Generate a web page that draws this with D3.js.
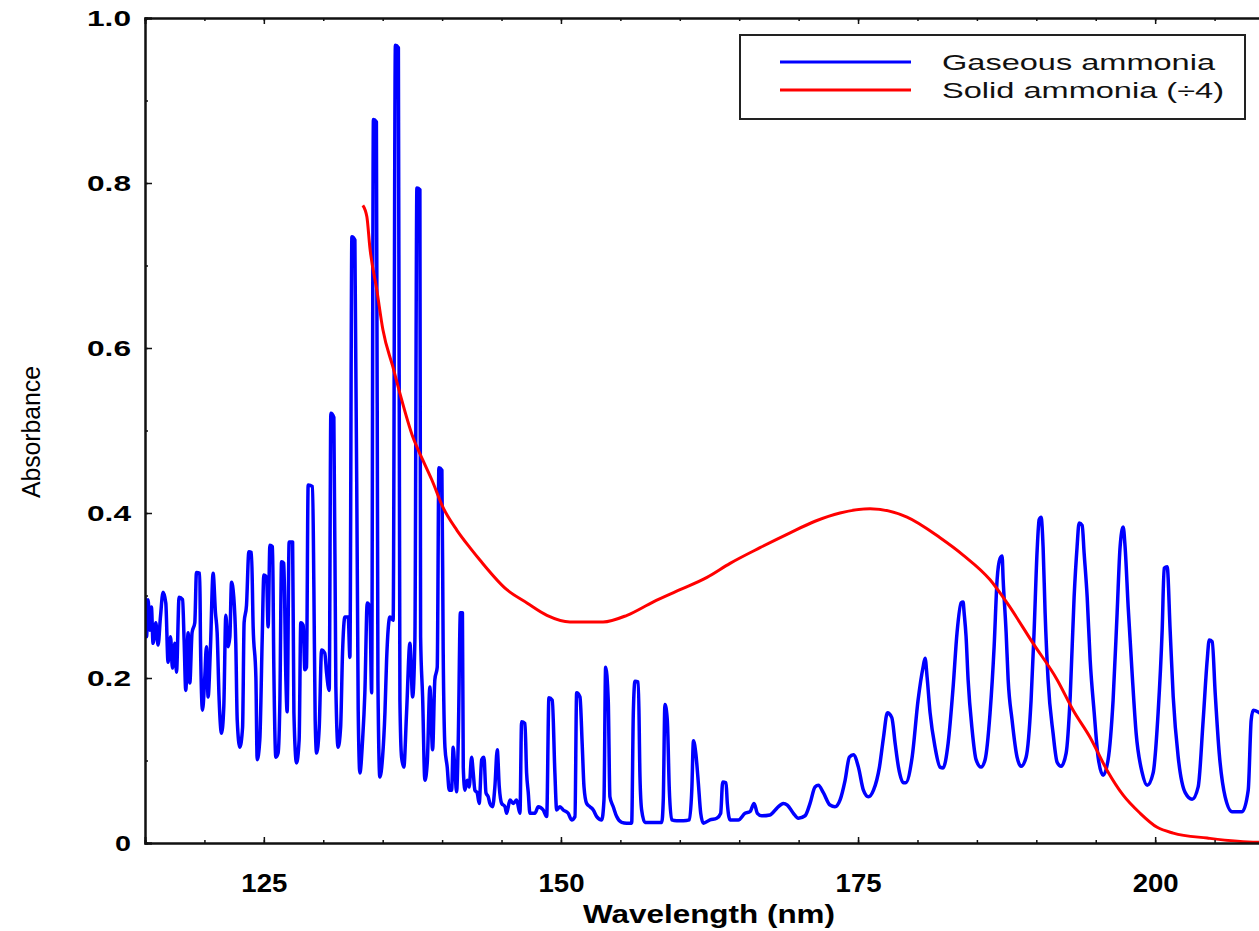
<!DOCTYPE html>
<html>
<head>
<meta charset="utf-8">
<script src="https://cdn.jsdelivr.net/npm/d3@7.9.0/dist/d3.min.js"></script>
<style>
  html, body { margin: 0; padding: 0; background: #fff; }
  svg { display: block; font-family: "Liberation Sans", Arial, sans-serif; }
</style>
</head>
<body>
<svg id="chart" width="1259" height="931"></svg>
<script>
// gaseous ammonia spectrum, [wavelength nm, absorbance]
const gaseous = [
  [115.00,0.298],[115.13,0.250],[115.26,0.295],[115.40,0.258],[115.54,0.286],[115.68,0.242],[115.91,0.267],[116.10,0.240],
  [116.30,0.274],[116.52,0.304],[116.75,0.291],[116.94,0.219],[117.15,0.250],[117.31,0.212],[117.51,0.242],[117.65,0.207],
  [117.87,0.298],[118.16,0.295],[118.29,0.246],[118.43,0.185],[118.63,0.255],[118.77,0.194],[118.96,0.255],[119.19,0.267],
  [119.33,0.328],[119.61,0.327],[119.67,0.242],[119.84,0.161],[120.03,0.201],[120.17,0.238],[120.31,0.177],[120.51,0.238],
  [120.73,0.327],[120.93,0.279],[121.07,0.255],[121.24,0.173],[121.44,0.133],[121.63,0.165],[121.80,0.276],[121.99,0.238],
  [122.14,0.250],[122.28,0.316],[122.47,0.298],[122.64,0.242],[122.76,0.149],[122.98,0.116],[123.21,0.140],[123.34,0.267],
  [123.54,0.288],[123.74,0.353],[123.96,0.352],[124.10,0.262],[124.33,0.201],[124.44,0.101],[124.66,0.125],[124.86,0.246],
  [125.00,0.325],[125.23,0.322],[125.36,0.262],[125.51,0.361],[125.73,0.359],[125.84,0.213],[126.01,0.104],[126.20,0.109],
  [126.35,0.173],[126.49,0.341],[126.68,0.339],[126.85,0.201],[126.96,0.159],[127.13,0.365],[127.42,0.365],[127.53,0.158],
  [127.75,0.097],[127.97,0.125],[128.11,0.267],[128.31,0.264],[128.45,0.210],[128.59,0.213],[128.73,0.434],[129.10,0.432],
  [129.21,0.310],[129.32,0.149],[129.44,0.109],[129.66,0.140],[129.86,0.234],[130.13,0.230],[130.28,0.206],[130.50,0.185],
  [130.64,0.521],[130.89,0.516],[131.06,0.189],[131.25,0.116],[131.46,0.140],[131.62,0.230],[131.82,0.274],[132.10,0.274],
  [132.24,0.225],[132.41,0.735],[132.66,0.731],[132.94,0.161],[133.08,0.085],[133.31,0.125],[133.50,0.182],[133.70,0.291],
  [133.92,0.286],[134.07,0.182],[134.22,0.877],[134.47,0.874],[134.60,0.198],[134.76,0.080],[134.99,0.104],[135.19,0.158],
  [135.33,0.222],[135.61,0.274],[135.88,0.270],[136.07,0.967],[136.32,0.964],[136.45,0.173],[136.59,0.104],[136.78,0.092],
  [137.01,0.158],[137.29,0.242],[137.52,0.177],[137.71,0.246],[137.88,0.794],[138.13,0.792],[138.19,0.250],[138.36,0.177],
  [138.55,0.076],[138.75,0.097],[138.97,0.189],[139.20,0.113],[139.39,0.198],[139.59,0.213],[139.73,0.455],[139.98,0.452],
  [140.09,0.234],[140.24,0.116],[140.43,0.092],[140.60,0.064],[140.80,0.064],[140.93,0.116],[141.08,0.088],[141.22,0.062],
  [141.36,0.125],[141.54,0.279],[141.71,0.279],[141.78,0.092],[141.92,0.064],[142.11,0.076],[142.28,0.068],[142.48,0.104],
  [142.62,0.085],[142.76,0.064],[142.95,0.061],[143.12,0.048],[143.33,0.101],[143.52,0.104],[143.69,0.061],[143.88,0.056],
  [144.02,0.048],[144.25,0.044],[144.44,0.068],[144.64,0.113],[144.81,0.068],[145.01,0.048],[145.29,0.044],[145.43,0.036],
  [145.71,0.052],[145.99,0.048],[146.27,0.052],[146.55,0.036],[146.69,0.147],[146.97,0.145],[147.11,0.085],[147.25,0.061],
  [147.39,0.036],[147.81,0.036],[148.09,0.044],[148.51,0.040],[148.80,0.032],[148.99,0.176],[149.27,0.173],[149.49,0.085],
  [149.64,0.040],[149.92,0.044],[150.19,0.040],[150.61,0.036],[150.90,0.028],[151.18,0.032],[151.32,0.182],[151.60,0.177],
  [151.79,0.119],[151.94,0.068],[152.16,0.048],[152.44,0.044],[152.72,0.040],[153.01,0.032],[153.43,0.028],[153.62,0.052],
  [153.76,0.213],[153.98,0.173],[154.12,0.056],[154.40,0.044],[154.69,0.032],[155.11,0.025],[155.53,0.024],[155.95,0.024],
  [156.09,0.158],[156.23,0.196],[156.51,0.195],[156.65,0.080],[156.79,0.040],[157.07,0.025],[157.49,0.025],[158.48,0.025],
  [158.61,0.052],[158.75,0.168],[158.95,0.149],[159.12,0.064],[159.32,0.028],[159.74,0.027],[160.30,0.027],[160.81,0.028],
  [161.01,0.064],[161.15,0.124],[161.36,0.107],[161.56,0.073],[161.76,0.036],[161.98,0.024],[162.54,0.028],[163.11,0.030],
  [163.44,0.036],[163.61,0.074],[163.89,0.073],[164.00,0.048],[164.23,0.028],[164.93,0.028],[165.49,0.036],[165.91,0.038],
  [166.25,0.048],[166.53,0.036],[166.89,0.033],[167.59,0.034],[168.16,0.042],[168.71,0.048],[169.05,0.046],[169.56,0.036],
  [169.98,0.030],[170.54,0.033],[170.96,0.048],[171.38,0.068],[171.66,0.070],[172.08,0.061],[172.64,0.046],[173.06,0.044],
  [173.48,0.052],[173.91,0.076],[174.27,0.104],[174.61,0.107],[175.03,0.092],[175.45,0.064],[175.87,0.056],[176.30,0.064],
  [176.80,0.092],[177.14,0.128],[177.47,0.158],[177.84,0.152],[178.12,0.121],[178.40,0.092],[178.82,0.073],[179.00,0.073],
  [179.55,0.104],[180.05,0.173],[180.47,0.213],[180.64,0.224],[180.81,0.201],[181.06,0.158],[181.48,0.116],[181.90,0.092],
  [182.15,0.091],[182.58,0.121],[183.00,0.189],[183.33,0.255],[183.67,0.291],[183.84,0.292],[183.92,0.280],[184.09,0.250],
  [184.26,0.198],[184.60,0.137],[184.93,0.101],[185.35,0.092],[185.69,0.101],[186.11,0.158],[186.45,0.238],[186.70,0.319],
  [186.95,0.345],[187.12,0.348],[187.21,0.319],[187.46,0.255],[187.63,0.198],[187.96,0.149],[188.38,0.104],[188.72,0.093],
  [189.14,0.104],[189.56,0.173],[189.81,0.255],[190.07,0.355],[190.24,0.392],[190.40,0.395],[190.57,0.359],[190.74,0.279],
  [190.99,0.198],[191.41,0.133],[191.75,0.098],[192.09,0.093],[192.51,0.109],[192.85,0.177],[193.18,0.298],[193.43,0.359],
  [193.60,0.388],[193.86,0.385],[194.02,0.352],[194.28,0.298],[194.53,0.222],[194.87,0.158],[195.20,0.104],[195.62,0.082],
  [196.04,0.101],[196.46,0.173],[196.80,0.279],[197.05,0.359],[197.31,0.383],[197.47,0.359],[197.73,0.286],[198.06,0.206],
  [198.40,0.133],[198.91,0.085],[199.33,0.070],[199.83,0.085],[200.25,0.158],[200.59,0.258],[200.76,0.333],[201.01,0.335],
  [201.26,0.258],[201.52,0.177],[201.94,0.104],[202.53,0.061],[203.11,0.053],[203.62,0.068],[204.04,0.149],[204.38,0.222],
  [204.55,0.246],[204.80,0.244],[205.05,0.182],[205.39,0.109],[205.89,0.056],[206.48,0.038],[207.32,0.038],[207.83,0.064],
  [208.08,0.149],[208.25,0.161],[208.75,0.158],[209.00,0.155]
];

// solid ammonia spectrum divided by 4, [wavelength nm, absorbance]
const solid = [
  [133.33,0.773],[133.67,0.759],[133.92,0.722],[134.51,0.670],[135.02,0.622],[135.86,0.577],[136.45,0.545],[137.54,0.492],
  [138.38,0.464],[139.14,0.440],[140.07,0.407],[141.25,0.379],[142.34,0.358],[143.18,0.343],[145.45,0.307],[147.14,0.291],
  [148.82,0.276],[150.76,0.268],[153.54,0.268],[155.56,0.276],[157.74,0.292],[160.02,0.307],[162.29,0.322],[164.23,0.339],
  [166.75,0.358],[169.28,0.376],[171.38,0.390],[173.48,0.400],[176.01,0.405],[179.12,0.395],[181.90,0.370],[183.84,0.349],
  [186.11,0.319],[187.54,0.291],[189.73,0.242],[191.75,0.198],[193.10,0.161],[194.53,0.128],[195.96,0.088],[197.31,0.058],
  [198.74,0.036],[200.17,0.019],[201.52,0.012],[204.38,0.006],[208.59,0.001],[210.00,0.001]
];

const xDomain = [115, 210];
const yDomain = [0, 1];
const xMajorTicks = [125, 150, 175, 200];
const yMajorTicks = [0, 0.2, 0.4, 0.6, 0.8, 1.0];
const seriesNames = ['Gaseous ammonia', 'Solid ammonia (\u00f74)'];
const seriesColors = ['#0000ff', '#ff0000'];

const svg = d3.select('#chart');
const margin = { left: 145, top: 18, right: 1274, bottom: 843 };

const x = d3.scaleLinear().domain(xDomain).range([margin.left, margin.right]);
const y = d3.scaleLinear().domain(yDomain).range([margin.bottom, margin.top]);

const xMinor = d3.range(115, 210.1, 5);
const yMinor = d3.range(0, 1.01, 0.1);

// clip to the plot frame
svg.append('defs').append('clipPath').attr('id', 'plot')
  .append('rect')
  .attr('x', margin.left).attr('y', margin.top)
  .attr('width', margin.right - margin.left).attr('height', margin.bottom - margin.top);

const line = d3.line()
  .curve(d3.curveMonotoneX)
  .x(d => x(d[0]))
  .y(d => y(d[1]));

svg.append('path')
  .datum(gaseous)
  .attr('clip-path', 'url(#plot)')
  .attr('fill', 'none')
  .attr('stroke', seriesColors[0])
  .attr('stroke-width', 3.5)
  .attr('stroke-linejoin', 'round')
  .attr('d', line);

svg.append('path')
  .datum(solid)
  .attr('clip-path', 'url(#plot)')
  .attr('fill', 'none')
  .attr('stroke', seriesColors[1])
  .attr('stroke-width', 3)
  .attr('stroke-linejoin', 'round')
  .attr('d', line);

// axes, ticks point inward
function styleAxis(g) {
  g.select('.domain').attr('stroke', '#111').attr('stroke-width', 2);
  g.selectAll('.tick line').attr('stroke', '#111').attr('stroke-width', 1.5);
}

// minor ticks
svg.append('g').attr('transform', `translate(0,${margin.bottom})`)
  .call(d3.axisBottom(x).tickValues(xMinor).tickSize(-3).tickFormat(''))
  .call(styleAxis);
svg.append('g').attr('transform', `translate(0,${margin.top})`)
  .call(d3.axisTop(x).tickValues(xMinor).tickSize(-3).tickFormat(''))
  .call(styleAxis);
svg.append('g').attr('transform', `translate(${margin.left},0)`)
  .call(d3.axisLeft(y).tickValues(yMinor).tickSize(-3).tickFormat(''))
  .call(styleAxis);

// major ticks with labels
const xAxis = svg.append('g').attr('transform', `translate(0,${margin.bottom})`)
  .call(d3.axisBottom(x).tickValues(xMajorTicks).tickSize(-6).tickPadding(31).tickFormat(d3.format('d')))
  .call(styleAxis);
xAxis.selectAll('.tick text')
  .attr('fill', '#000')
  .style('font-size', '25px')
  .style('font-weight', 'bold')
  .attr('textLength', 46)
  .attr('lengthAdjust', 'spacingAndGlyphs');

svg.append('g').attr('transform', `translate(0,${margin.top})`)
  .call(d3.axisTop(x).tickValues(xMajorTicks).tickSize(-6).tickFormat(''))
  .call(styleAxis);

const yAxis = svg.append('g').attr('transform', `translate(${margin.left},0)`)
  .call(d3.axisLeft(y).tickValues(yMajorTicks).tickSize(-7).tickPadding(14)
    .tickFormat(d => d === 0 ? '0' : d.toFixed(1)))
  .call(styleAxis);
yAxis.selectAll('.tick text')
  .attr('fill', '#000')
  .style('font-size', '22px')
  .style('font-weight', 'bold')
  .attr('textLength', d => d === 0 ? 16 : 44)
  .attr('lengthAdjust', 'spacingAndGlyphs');

// axis titles
svg.append('text')
  .attr('x', 709).attr('y', 923)
  .attr('text-anchor', 'middle')
  .style('font-size', '25px')
  .style('font-weight', 'bold')
  .attr('textLength', 252)
  .attr('lengthAdjust', 'spacingAndGlyphs')
  .text('Wavelength (nm)');

svg.append('text')
  .attr('transform', 'translate(40,432) rotate(-90)')
  .attr('text-anchor', 'middle')
  .style('font-size', '25px')
  .attr('textLength', 132)
  .attr('lengthAdjust', 'spacingAndGlyphs')
  .text('Absorbance');

// legend
const legend = svg.append('g');
legend.append('rect')
  .attr('x', 740).attr('y', 35).attr('width', 505).attr('height', 84)
  .attr('fill', '#fff').attr('stroke', '#222').attr('stroke-width', 2);

const legendLen = [273, 282];
seriesNames.forEach((name, i) => {
  const ly = 62 + i * 28;
  legend.append('line')
    .attr('x1', 780).attr('x2', 911).attr('y1', ly).attr('y2', ly)
    .attr('stroke', seriesColors[i]).attr('stroke-width', 3);
  legend.append('text')
    .attr('x', 942).attr('y', ly + 8)
    .attr('fill', '#111')
    .style('font-size', '22px')
    .attr('textLength', legendLen[i])
    .attr('lengthAdjust', 'spacingAndGlyphs')
    .text(name);
});
</script>
</body>
</html>
